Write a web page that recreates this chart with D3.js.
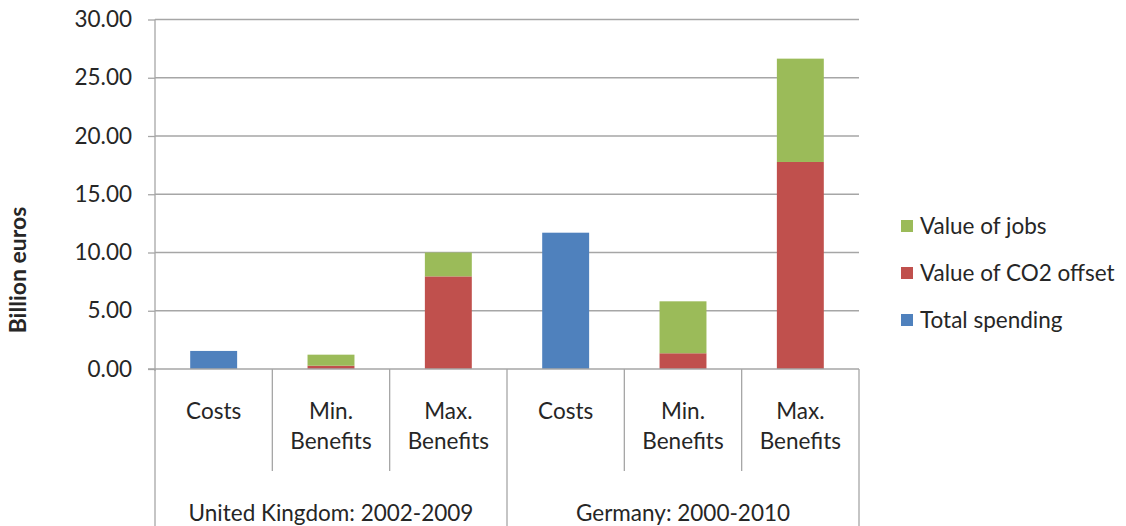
<!DOCTYPE html>
<html><head><meta charset="utf-8">
<script src="https://cdn.jsdelivr.net/npm/d3@7"></script>
<style>body{margin:0;background:#fff}svg text{font-family:Lato,"Open Sans",sans-serif;fill:#262626}</style>
</head><body><svg id="c" width="1126" height="526"></svg>
<script>
const categories = ["Costs","Min.\nBenefits","Max.\nBenefits","Costs","Min.\nBenefits","Max.\nBenefits"];
const groups = ["United Kingdom: 2002-2009","Germany: 2000-2010"];
const seriesNames = ["Total spending","Value of CO2 offset","Value of jobs"];
const totalSpending = [1.55, 0, 0, 11.70, 0, 0];
const co2Offset = [0, 0.28, 7.95, 0, 1.35, 17.77];
const jobsValue = [0, 0.95, 2.05, 0, 4.46, 8.87];
const yTicks = [0,5,10,15,20,25,30];
const colors = ["#4F81BD","#C0504D","#9BBB59"];

const FS = 22.5;
const svg = d3.select("#c");
const L=155,R=859,T=19.5,B=369;
const x = d3.scaleBand().domain(d3.range(categories.length)).range([L,R]).paddingInner(0).paddingOuter(0);
const y = d3.scaleLinear().domain([0,30]).range([B,T]);
const bw = x.bandwidth()/2.5;

// gridlines
svg.append("g").selectAll("line").data(yTicks.slice(1)).join("line")
  .attr("x1",L).attr("x2",R).attr("y1",d=>y(d)).attr("y2",d=>y(d))
  .attr("stroke","#a6a6a6").attr("stroke-width",1.3);

// y axis
const ya = svg.append("g").attr("transform",`translate(${L},0)`)
  .call(d3.axisLeft(y).tickValues(yTicks).tickFormat(d3.format(".2f")).tickSize(7).tickPadding(16));
ya.select(".domain").attr("stroke","#a6a6a6").attr("stroke-width",1.3).attr("d",`M-0,${T}V${B+2}`);
ya.selectAll(".tick line").attr("stroke","#a6a6a6").attr("stroke-width",1.3);
ya.selectAll(".tick text").attr("font-size",FS).attr("font-family","Lato").attr("fill","#262626");

// stacked bars
const data = categories.map((c,i)=>({i, vals:[totalSpending[i],co2Offset[i],jobsValue[i]]}));
const stack = d3.stack().keys([0,1,2]).value((d,k)=>d.vals[k])(data);
svg.append("g").selectAll("g").data(stack).join("g").attr("fill",(d,k)=>colors[k])
  .selectAll("rect").data(d=>d.filter(p=>p[1]-p[0]>0)).join("rect")
  .attr("x",d=>x(d.data.i)+(x.bandwidth()-bw)/2).attr("width",bw)
  .attr("y",d=>y(d[1])).attr("height",d=>y(d[0])-y(d[1]));

// bottom axis line and category dividers
const ax = svg.append("g").attr("stroke","#a6a6a6").attr("stroke-width",1.3);
ax.append("line").attr("x1",L-7).attr("x2",R).attr("y1",B).attr("y2",B);
const bounds = d3.range(categories.length+1);
ax.selectAll(".div").data(bounds).join("line")
  .attr("x1",i=>i<categories.length?x(i):R).attr("x2",i=>i<categories.length?x(i):R)
  .attr("y1",B).attr("y2",i=>i%3===0?526:471);

// category labels
const cl = svg.append("g").selectAll("text").data(categories).join("text")
  .attr("text-anchor","middle").attr("font-size",FS)
  .attr("x",(d,i)=>x(i)+x.bandwidth()/2).attr("y",419);
cl.selectAll("tspan").data(d=>d.split("\n")).join("tspan")
  .attr("x",function(){return this.parentNode.getAttribute("x");})
  .attr("dy",(d,j)=>j===0?0:30).text(d=>d);

// group labels
svg.append("g").selectAll("text").data(groups).join("text")
  .attr("text-anchor","middle").attr("font-size",FS)
  .attr("x",(d,g)=>(x(g*3)+ (g===1?R:x(3)))/2).attr("y",521).text(d=>d);

// y title
svg.append("text").attr("transform","translate(26,270) rotate(-90)")
  .attr("text-anchor","middle").attr("font-size",23).attr("font-weight","bold").text("Billion euros");

// legend (reverse order)
const leg = svg.append("g").selectAll("g").data([2,1,0]).join("g")
  .attr("transform",(d,j)=>`translate(901,${226+j*47})`);
leg.append("rect").attr("x",0).attr("y",-6).attr("width",12).attr("height",12).attr("fill",k=>colors[k]);
leg.append("text").attr("x",19).attr("y",8).attr("font-size",FS).text(k=>seriesNames[k]);
</script></body></html>
